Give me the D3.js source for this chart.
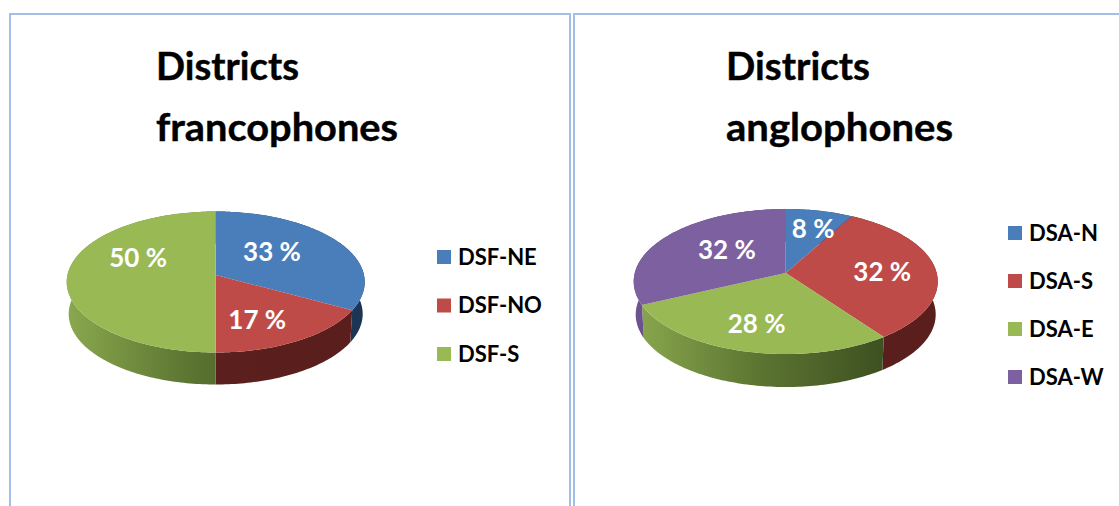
<!DOCTYPE html><html>
<head>
<meta charset="utf-8">
<script src="https://cdnjs.cloudflare.com/ajax/libs/d3/7.8.5/d3.min.js"></script>
<style>
  html, body { margin: 0; padding: 0; background: #fff; overflow: hidden; }
  text { font-family: Lato, "Open Sans", sans-serif; font-weight: 700; }
</style>
</head>
<body>
<svg id="chart" width="1119" height="506"></svg>
<script>
// values
var frCategories = ["DSF-NE", "DSF-NO", "DSF-S"];
var frValues = [33, 17, 50];
var enCategories = ["DSA-N", "DSA-S", "DSA-E", "DSA-W"];
var enValues = [8, 32, 28, 32];

var frColors = ["#4a7ebb", "#be4b48", "#98b954"];
var enColors = ["#4a7ebb", "#be4b48", "#98b954", "#7d60a0"];
var wallStops = {
    "#4a7ebb": ["#2f5480", "#1f3a5f", "#1c3555"],
    "#be4b48": ["#7e2e2c", "#5c201e", "#5a1f1c"],
    "#98b954": ["#8aa84e", "#5d7632", "#3f5222"],
    "#7d60a0": ["#6d5490", "#4f3c6b", "#3f3058"]
};

var svg = d3.select("#chart");
var defs = svg.append("defs");

// panel frames, only left, top and right sides show
function frame(x0, x1) {
    svg.append("path").attr("d", "M" + x0 + ",506V14H" + x1 + (x1 < 1119 ? "V506" : ""))
        .attr("fill", "none").attr("stroke", "#a3bee9").attr("stroke-width", 2);
}
frame(10, 570);
frame(574, 1120);

// tilted pie with a bit of perspective, a moves the apex off the ellipse centre
function drawPie(cfg) {
    var xs = d3.scaleLinear().domain([-1, 1]).range([cfg.cx - cfg.rx, cfg.cx + cfg.rx]);
    var ys = d3.scaleLinear().domain([-1, 1]).range([cfg.cy - cfg.ry, cfg.cy + cfg.ry]);
    var xsLow = d3.scaleLinear().domain([-1, 1]).range([cfg.cx - cfg.rx + 2, cfg.cx + cfg.rx - 2]);
    var ysLow = d3.scaleLinear().domain([-1, 1]).range([cfg.cy - cfg.ry + cfg.depth, cfg.cy + cfg.ry + cfg.depth]);

    function project(angle, r) {
        var u = r * Math.sin(angle), v = -r * Math.cos(angle);
        var d = 1 + cfg.a * v;
        return [u * Math.sqrt(1 - cfg.a * cfg.a) / d, (v + cfg.a) / d];
    }
    function rim(s) {
        var n = Math.ceil((s.endAngle - s.startAngle) / 0.02);
        return d3.range(n + 1).map(function(i) {
            return project(s.startAngle + (s.endAngle - s.startAngle) * i / n, 1);
        });
    }
    var line = d3.line().x(function(d) { return xs(d[0]); }).y(function(d) { return ys(d[1]); });
    var lineLow = d3.line().x(function(d) { return xsLow(d[0]); }).y(function(d) { return ysLow(d[1]); });

    var slices = d3.pie().sort(null)(cfg.values);
    var g = svg.append("g");

    slices.forEach(function(s) {
        var c = cfg.colors[s.index], id = "wall-" + cfg.id + "-" + s.index;
        var grad = defs.append("linearGradient").attr("id", id).attr("gradientUnits", "userSpaceOnUse")
            .attr("x1", cfg.cx - cfg.rx).attr("x2", cfg.cx + cfg.rx * 0.6).attr("y1", 0).attr("y2", 0);
        wallStops[c].forEach(function(col, i) {
            grad.append("stop").attr("offset", i / 2).attr("stop-color", col);
        });
        var pts = rim(s);
        // wall between upper and lower rim
        g.append("path")
            .attr("d", line(pts) + "L" + lineLow(pts.slice().reverse()).slice(1) + "Z")
            .attr("fill", "url(#" + id + ")");
    });
    slices.forEach(function(s) {
        var apex = project(0, 0);
        g.append("path")
            .attr("d", line([apex].concat(rim(s))) + "Z")
            .attr("fill", cfg.colors[s.index]);
    });

    slices.forEach(function(s) {
        var p = project((s.startAngle + s.endAngle) / 2, 0.55);
        g.append("text")
            .attr("x", xs(p[0]) + cfg.labelNudge[s.index][0])
            .attr("y", ys(p[1]) + cfg.labelNudge[s.index][1])
            .attr("dy", "0.35em")
            .attr("text-anchor", "middle")
            .attr("fill", "#fff")
            .attr("font-size", 26)
            .text(s.value + " %");
    });

    // title, widths forced because Lato runs a bit narrower than the original
    cfg.title.forEach(function(t, i) {
        svg.append("text").attr("x", cfg.titleX).attr("y", 80 + i * 61)
            .attr("font-size", 39).attr("fill", "#000")
            .attr("stroke", "#000").attr("stroke-width", 0.4)
            .attr("textLength", cfg.titleWidths[i]).attr("lengthAdjust", "spacingAndGlyphs")
            .text(t);
    });

    // legend
    var ly = d3.scalePoint().domain(cfg.categories).range(cfg.legendRange);
    cfg.categories.forEach(function(name, i) {
        svg.append("rect").attr("x", cfg.legendX).attr("y", ly(name) - 7)
            .attr("width", 14).attr("height", 14).attr("fill", cfg.colors[i]);
        svg.append("text").attr("x", cfg.legendX + 21).attr("y", ly(name))
            .attr("dy", "0.35em").attr("font-size", 22).attr("fill", "#000").text(name);
    });
}

drawPie({
    id: "fr", values: frValues, colors: frColors, categories: frCategories,
    title: ["Districts", "francophones"], titleX: 156, titleWidths: [143, 242],
    cx: 215.7, cy: 282, rx: 149, ry: 70.5, depth: 32, a: -0.1,
    labelNudge: [[-12, -4], [-2, 10], [4, -17]],
    legendX: 437, legendRange: [257, 354]
});
drawPie({
    id: "en", values: enValues, colors: enColors, categories: enCategories,
    title: ["Districts", "anglophones"], titleX: 726, titleWidths: [144, 227],
    cx: 785.7, cy: 281.5, rx: 152, ry: 72.5, depth: 33, a: -0.117,
    labelNudge: [[8, -8], [14, 1], [-7, 10], [9, -3]],
    legendX: 1008, legendRange: [233, 377]
});
</script>
</body>
</html>
